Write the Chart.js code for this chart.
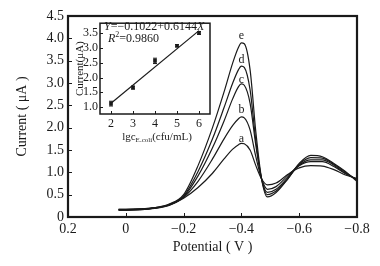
<!DOCTYPE html>
<html>
<head>
<meta charset="utf-8">
<script src="https://cdn.jsdelivr.net/npm/chart.js@4.4.0/dist/chart.umd.min.js"></script>
<style>
  html, body { margin: 0; padding: 0; background: #fff; }
  #wrap { position: relative; width: 380px; height: 266px; overflow: hidden; }
  #main { position: absolute; left: 0; top: 0; }
  #inset { position: absolute; left: 66px; top: 14px; }
</style>
</head>
<body>
<div id="wrap">
  <canvas id="main" width="380" height="266"></canvas>
  <canvas id="inset" width="150" height="135"></canvas>
</div>
<script>
/* ---- data ---- */
var potential = [0.025, 0, -0.05, -0.1, -0.15, -0.2, -0.25, -0.3, -0.34, -0.37, -0.39, -0.4, -0.41,
                 -0.43, -0.45, -0.47, -0.49, -0.52, -0.56, -0.6, -0.64, -0.68, -0.72, -0.76, -0.8];
var curveA = [0.15, 0.15, 0.16, 0.19, 0.26, 0.42, 0.66, 0.98, 1.3, 1.52, 1.62, 1.65, 1.64,
              1.5, 1.15, 0.85, 0.72, 0.76, 0.95, 1.1, 1.15, 1.14, 1.06, 0.94, 0.86];
var curveB = [0.16, 0.16, 0.17, 0.2, 0.27, 0.44, 0.8, 1.3, 1.75, 2.05, 2.2, 2.24, 2.22,
              1.95, 1.35, 0.85, 0.62, 0.68, 0.92, 1.15, 1.24, 1.24, 1.13, 0.97, 0.85];
var curveC = [0.16, 0.16, 0.17, 0.2, 0.27, 0.45, 0.92, 1.55, 2.15, 2.65, 2.92, 2.98, 2.95,
              2.55, 1.6, 0.85, 0.55, 0.62, 0.88, 1.16, 1.28, 1.28, 1.16, 0.98, 0.84];
var curveD = [0.17, 0.17, 0.18, 0.21, 0.28, 0.47, 1.02, 1.75, 2.45, 3.0, 3.3, 3.38, 3.35,
              2.85, 1.7, 0.85, 0.5, 0.58, 0.85, 1.18, 1.33, 1.32, 1.18, 1.0, 0.82];
var curveE = [0.17, 0.17, 0.18, 0.21, 0.29, 0.5, 1.15, 2.0, 2.8, 3.45, 3.8, 3.9, 3.88,
              3.3, 1.9, 0.85, 0.45, 0.55, 0.85, 1.2, 1.38, 1.35, 1.2, 1.02, 0.8];
var curveNames = ['a', 'b', 'c', 'd', 'e'];
var labelPotential = -0.4;
var labelCurrent = [1.75, 2.39, 3.08, 3.51, 4.05];
var xTicks = [0.2, 0, -0.2, -0.4, -0.6, -0.8];
var yTicks = [0, 0.5, 1.0, 1.5, 2.0, 2.5, 3.0, 3.5, 4.0, 4.5];

// inset: calibration
var logConc = [2, 3, 4, 5, 6];
var peakCurrent = [1.12, 1.66, 2.56, 3.07, 3.5];
var peakError = [0.08, 0.05, 0.09, 0.04, 0.05];
var fitX = [2, 6];
var fitY = [1.13, 3.58];
var insetXTicks = [2, 3, 4, 5, 6];
var insetYTicks = [1.0, 1.5, 2.0, 2.5, 3.0, 3.5];

var SERIF = "'Liberation Serif', 'DejaVu Serif', serif";
var INK = '#1a1a1a';
Chart.defaults.font.family = SERIF;
Chart.defaults.color = INK;

function fmt(v) {
  if (Math.abs(v) < 1e-9) return '0';
  return (v < 0 ? '\u2212' : '') + Math.abs(v).toFixed(1);
}
function pts(xs, ys) {
  return xs.map(function(x, i) { return { x: x, y: ys[i] }; });
}

/* frame + inward tick marks */
var frameTicks = {
  id: 'frameTicks',
  afterDraw: function(chart, args, opts) {
    var ctx = chart.ctx, a = chart.chartArea;
    ctx.save();
    ctx.strokeStyle = INK;
    ctx.lineWidth = opts.lw;
    ctx.strokeRect(a.left, a.top, a.right - a.left, a.bottom - a.top);
    ctx.lineWidth = 1;
    ctx.beginPath();
    opts.xt.forEach(function(v) {
      var px = Math.round(chart.scales.x.getPixelForValue(v)) + 0.5;
      ctx.moveTo(px, a.bottom); ctx.lineTo(px, a.bottom - opts.len);
    });
    opts.yt.forEach(function(v) {
      var py = Math.round(chart.scales.y.getPixelForValue(v)) + 0.5;
      ctx.moveTo(a.left, py); ctx.lineTo(a.left + opts.len, py);
    });
    ctx.stroke();
    ctx.restore();
  }
};

/* curve letters */
var curveLetters = {
  id: 'curveLetters',
  afterDatasetsDraw: function(chart) {
    var ctx = chart.ctx;
    ctx.save();
    ctx.fillStyle = INK;
    ctx.font = '12px ' + SERIF;
    ctx.textAlign = 'center';
    ctx.textBaseline = 'middle';
    curveNames.forEach(function(n, i) {
      ctx.fillText(n, chart.scales.x.getPixelForValue(labelPotential),
                   chart.scales.y.getPixelForValue(labelCurrent[i]));
    });
    ctx.restore();
  }
};

var curves = [curveA, curveB, curveC, curveD, curveE];
new Chart(document.getElementById('main'), {
  type: 'line',
  data: {
    datasets: curves.map(function(c, i) {
      return {
        label: curveNames[i],
        data: pts(potential, c),
        borderColor: INK,
        borderWidth: 1.2,
        pointRadius: 0,
        cubicInterpolationMode: 'monotone',
        fill: false
      };
    })
  },
  options: {
    responsive: false,
    animation: false,
    devicePixelRatio: 1,
    layout: { padding: { left: 0, top: 16, right: 23, bottom: 0 } },
    plugins: {
      legend: { display: false },
      tooltip: { enabled: false },
      frameTicks: { lw: 2.2, len: 4, xt: [0, -0.2, -0.4, -0.6], yt: [0.5, 1, 1.5, 2, 2.5, 3, 3.5, 4] }
    },
    scales: {
      x: {
        type: 'linear',
        reverse: true,
        min: -0.8,
        max: 0.2,
        afterBuildTicks: function(s) { s.ticks = xTicks.map(function(v) { return { value: v }; }); },
        afterFit: function(s) { s.height = 49; },
        grid: { display: false, drawTicks: false },
        border: { display: false },
        ticks: { font: { size: 14 }, padding: 4, maxRotation: 0, callback: fmt },
        title: { display: true, text: 'Potential ( V )', font: { size: 14 }, padding: { top: 0, bottom: 10 } }
      },
      y: {
        min: 0,
        max: 4.5,
        afterBuildTicks: function(s) { s.ticks = yTicks.map(function(v) { return { value: v }; }); },
        afterFit: function(s) { s.width = 68; },
        grid: { display: false, drawTicks: false },
        border: { display: false },
        ticks: { font: { size: 14 }, padding: 4, callback: fmt },
        title: { display: true, text: 'Current ( \u03bcA )', font: { size: 14 }, padding: { top: 14, bottom: 0 } }
      }
    }
  },
  plugins: [frameTicks, curveLetters]
});

/* ---- inset ---- */
var insetExtras = {
  id: 'insetExtras',
  afterDatasetsDraw: function(chart) {
    var ctx = chart.ctx, a = chart.chartArea, sx = chart.scales.x, sy = chart.scales.y;
    ctx.save();
    ctx.strokeStyle = INK;
    ctx.lineWidth = 1;
    ctx.beginPath();
    logConc.forEach(function(x, i) {
      var px = sx.getPixelForValue(x);
      var top = sy.getPixelForValue(peakCurrent[i] + peakError[i]);
      var bot = sy.getPixelForValue(peakCurrent[i] - peakError[i]);
      ctx.moveTo(px, top); ctx.lineTo(px, bot);
      ctx.moveTo(px - 2, top); ctx.lineTo(px + 2, top);
      ctx.moveTo(px - 2, bot); ctx.lineTo(px + 2, bot);
    });
    ctx.stroke();

    // equation text
    ctx.fillStyle = INK;
    ctx.textBaseline = 'middle';
    var x0 = a.left + 4, y0 = a.top + 4;
    ctx.font = 'italic 12px ' + SERIF;
    ctx.fillText('Y', x0, y0);
    x0 += ctx.measureText('Y').width;
    ctx.font = '12px ' + SERIF;
    var mid = '=\u22120.1022+0.6144';
    ctx.fillText(mid, x0, y0);
    x0 += ctx.measureText(mid).width;
    ctx.font = 'italic 12px ' + SERIF;
    ctx.fillText('X', x0, y0);

    var x1 = a.left + 8, y1 = a.top + 16;
    ctx.font = 'italic 12px ' + SERIF;
    ctx.fillText('R', x1, y1);
    x1 += ctx.measureText('R').width;
    ctx.font = '8px ' + SERIF;
    ctx.fillText('2', x1, y1 - 4);
    x1 += ctx.measureText('2').width;
    ctx.font = '12px ' + SERIF;
    ctx.fillText('=0.9860', x1, y1);

    // x title with subscript
    var parts = [['lgc', 11, 0], ['E.coli', 7, 3], ['(cfu/mL)', 11, 0]];
    var total = 0;
    parts.forEach(function(p) { ctx.font = p[1] + 'px ' + SERIF; total += ctx.measureText(p[0]).width; });
    var tx = (a.left + a.right) / 2 - total / 2 + 2, ty = a.bottom + 23;
    parts.forEach(function(p) {
      ctx.font = p[1] + 'px ' + SERIF;
      ctx.fillText(p[0], tx, ty + p[2]);
      tx += ctx.measureText(p[0]).width;
    });
    ctx.restore();
  }
};

new Chart(document.getElementById('inset'), {
  type: 'scatter',
  data: {
    datasets: [
      {
        label: 'fit',
        data: pts(fitX, fitY),
        showLine: true,
        borderColor: INK,
        borderWidth: 1.2,
        pointRadius: 0
      },
      {
        label: 'peak current',
        data: pts(logConc, peakCurrent),
        pointStyle: 'rect',
        pointRadius: 2.6,
        backgroundColor: INK,
        borderColor: INK,
        borderWidth: 0
      }
    ]
  },
  options: {
    responsive: false,
    animation: false,
    devicePixelRatio: 1,
    layout: { padding: { left: 0, top: 6, right: 6, bottom: 0 } },
    plugins: {
      legend: { display: false },
      tooltip: { enabled: false },
      frameTicks: { lw: 1.5, len: 3, xt: insetXTicks, yt: insetYTicks }
    },
    scales: {
      x: {
        type: 'linear',
        min: 1.5,
        max: 6.5,
        afterBuildTicks: function(s) { s.ticks = insetXTicks.map(function(v) { return { value: v }; }); },
        afterFit: function(s) { s.height = 35; },
        grid: { display: false, drawTicks: false },
        border: { display: false },
        ticks: { font: { size: 12 }, padding: 3, maxRotation: 0, callback: function(v) { return String(v); } }
      },
      y: {
        min: 0.77,
        max: 3.83,
        afterBuildTicks: function(s) { s.ticks = insetYTicks.map(function(v) { return { value: v }; }); },
        afterFit: function(s) { s.width = 34; },
        grid: { display: false, drawTicks: false },
        border: { display: false },
        ticks: { font: { size: 12 }, padding: 2, callback: fmt },
        title: { display: true, text: 'Current(\u03bcA)', font: { size: 11 }, padding: { top: 8, bottom: 0 } }
      }
    }
  },
  plugins: [frameTicks, insetExtras]
});
</script>
</body>
</html>
